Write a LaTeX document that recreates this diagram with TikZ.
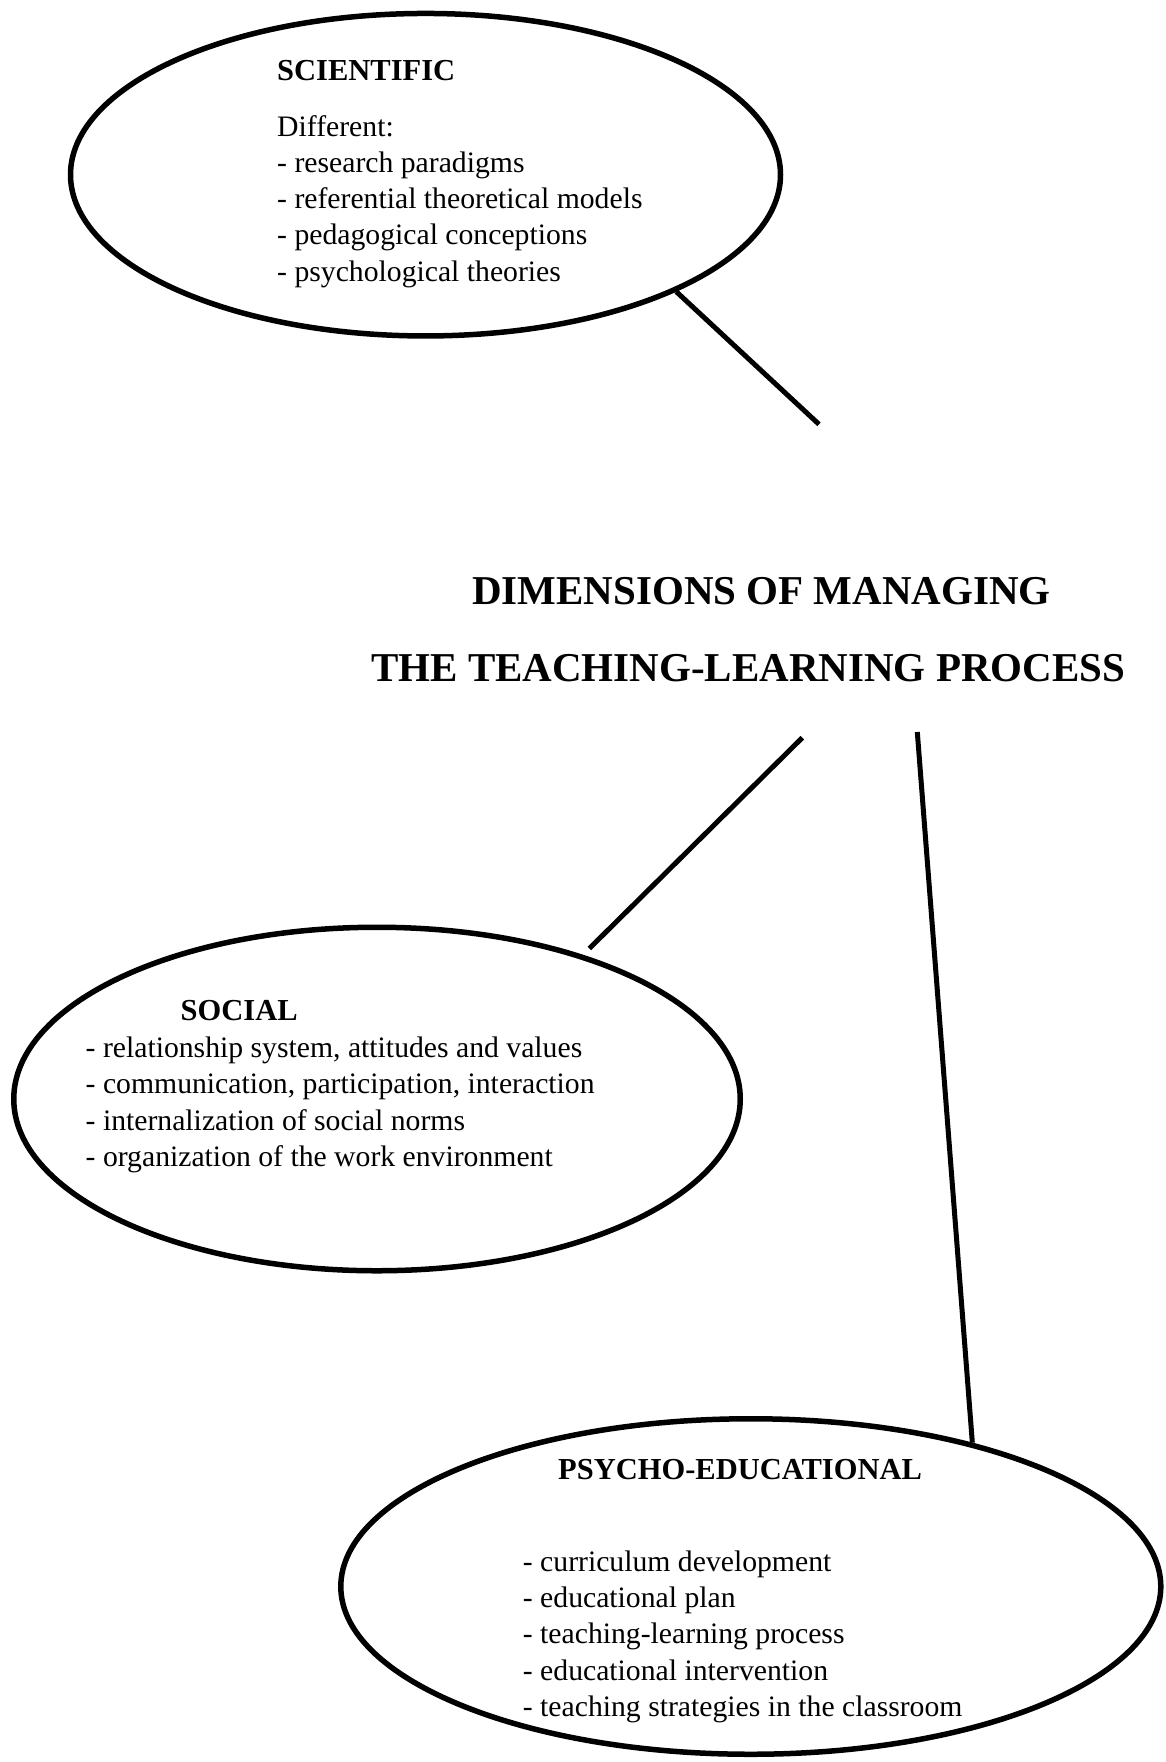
\documentclass[tikz,border=0pt]{standalone}
\usepackage{fontspec}
\setmainfont{Liberation Serif}
\usetikzlibrary{shapes.geometric}
\begin{document}
\begin{tikzpicture}[x=1pt,y=1pt,
  bubble/.style={ellipse, draw=black, line width=5.5pt, inner sep=0pt},
  link/.style={draw=black, line width=5pt},
  body/.style={anchor=base west, inner sep=0pt, font=\fontsize{29.7}{36}\selectfont},
  head/.style={anchor=base west, inner sep=0pt, font=\fontsize{30.5}{36}\selectfont\bfseries},
  title/.style={anchor=base west, inner sep=0pt, font=\fontsize{41}{48}\selectfont\bfseries}]
\useasboundingbox (0,0) rectangle (1166,-1762);

% ellipses
\node[bubble, minimum width=710pt, minimum height=322.5pt] (sci) at (425.5,-174.7) {};
\node[bubble, minimum width=726.5pt, minimum height=343.5pt] (soc) at (377,-1099) {};
\node[bubble, minimum width=820pt, minimum height=335.5pt] (psy) at (750.8,-1586.5) {};

% title
\node[title] (t1) at (472,-604) {DIMENSIONS OF MANAGING};
\node[title] (t2) at (371,-681.7) {THE TEACHING-LEARNING PROCESS};

% free ends of connectors
\coordinate (c1) at (819,-424.3);
\coordinate (c2) at (802.3,-737.7);
\coordinate (c3) at (917.3,-732);

\draw[link] (sci.-25.3) -- (c1);
\draw[link, shorten <=9pt] (soc.35) -- (c2);
\draw[link] (psy.33.1) -- (c3);

% scientific text
\node[head] (s0) at (277,-80.5) {SCIENTIFIC};
\node[body] (s1) at (277,-136.5) {Different:};
\node[body] (s2) at (277,-172) {- research paradigms};
\node[body] (s3) at (277,-208) {- referential theoretical models};
\node[body] (s4) at (277,-244.5) {- pedagogical conceptions};
\node[body] (s5) at (277,-281) {- psychological theories};

% social text
\node[head] (o0) at (180.5,-1020) {SOCIAL};
\node[body] (o1) at (85.5,-1057) {- relationship system, attitudes and values};
\node[body] (o2) at (85.5,-1093.5) {- communication, participation, interaction};
\node[body] (o3) at (85.5,-1130) {- internalization of social norms};
\node[body] (o4) at (85.5,-1166.5) {- organization of the work environment};

% psycho-educational text
\node[head] (p0) at (558,-1479) {PSYCHO-EDUCATIONAL};
\node[body] (p1) at (522.7,-1571) {- curriculum development};
\node[body] (p2) at (522.7,-1607.3) {- educational plan};
\node[body] (p3) at (522.7,-1643.6) {- teaching-learning process};
\node[body] (p4) at (522.7,-1680) {- educational intervention};
\node[body] (p5) at (522.7,-1716.5) {- teaching strategies in the classroom};
\end{tikzpicture}
\end{document}
